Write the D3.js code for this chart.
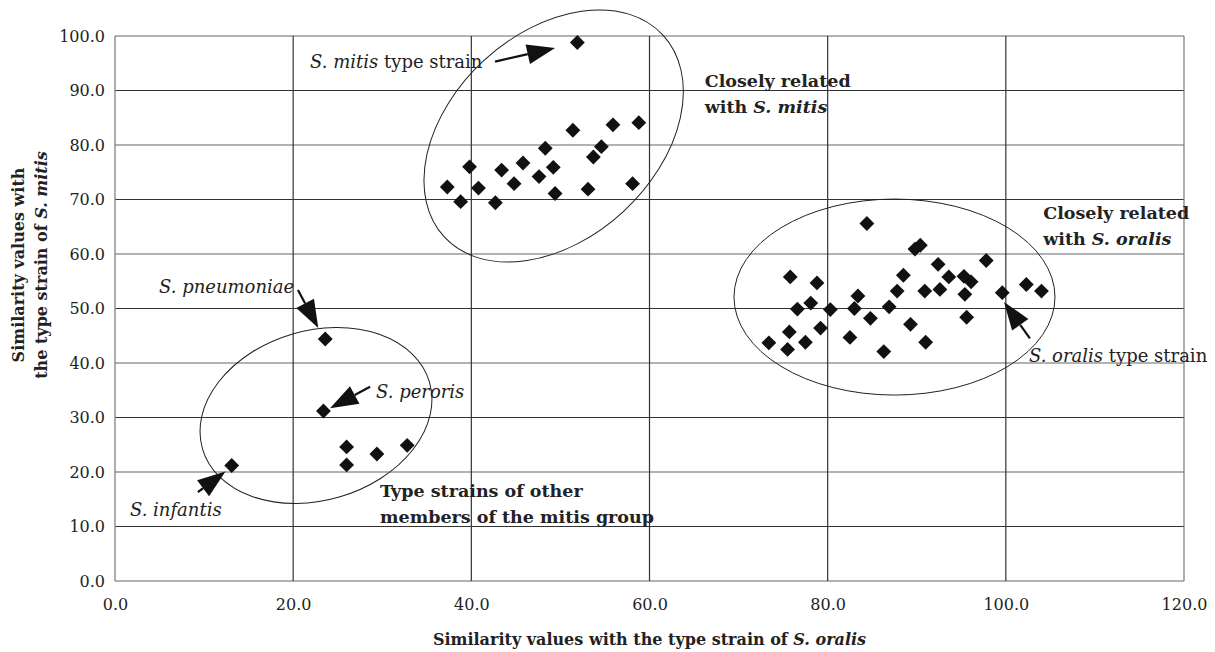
<!DOCTYPE html>
<html lang="en">
<head>
  <meta charset="UTF-8">
  <title>Similarity values</title>
  <script src="https://d3js.org/d3.v7.min.js"></script>
  <style>
    body { margin: 0; background: #fff; }
    svg { font-family: "DejaVu Serif", serif; }
    .tick text { font-size: 16px; fill: #222; }
    .bold { font-weight: bold; font-size: 17.5px; fill: #222; }
    .title { font-weight: bold; font-size: 16px; fill: #222; }
    .note { font-size: 18px; fill: #222; }
  </style>
</head>
<body>
  <svg></svg>
  <script>
    // S. mitis cluster (x = similarity with S. oralis, y = similarity with S. mitis)
    const mitisX = [51.9, 51.4, 55.9, 58.8, 54.6, 53.7, 48.3, 45.8, 39.8, 43.4, 49.2, 47.6, 44.8, 37.3, 40.8, 58.1, 53.1, 49.4, 38.8, 42.7];
    const mitisY = [98.8, 82.7, 83.7, 84.1, 79.7, 77.8, 79.4, 76.7, 76.0, 75.4, 75.9, 74.2, 72.9, 72.3, 72.1, 72.9, 71.9, 71.1, 69.6, 69.4];
    // S. oralis cluster
    const oralisX = [84.4, 89.8, 90.4, 97.8, 92.4, 75.8, 88.5, 93.6, 78.8, 95.3, 96.1, 102.3, 104.0, 99.6, 87.8, 90.9, 92.6, 95.4, 83.4, 78.1, 76.6, 80.3, 83.0, 86.9, 95.6, 84.8, 75.7, 79.2, 89.3, 73.4, 77.5, 82.5, 75.5, 86.3, 91.0];
    const oralisY = [65.6, 60.9, 61.6, 58.8, 58.1, 55.8, 56.1, 55.8, 54.7, 55.9, 54.9, 54.4, 53.2, 52.9, 53.2, 53.2, 53.5, 52.6, 52.3, 51.0, 49.9, 49.8, 50.0, 50.3, 48.4, 48.2, 45.7, 46.4, 47.1, 43.7, 43.8, 44.7, 42.5, 42.1, 43.8];
    // other members of the mitis group
    const otherX = [23.6, 23.4, 26.0, 26.0, 29.4, 32.8, 13.1];
    const otherY = [44.4, 31.2, 24.6, 21.3, 23.3, 24.9, 21.2];

    const xTicks = [0, 20, 40, 60, 80, 100, 120];
    const yTicks = [0, 10, 20, 30, 40, 50, 60, 70, 80, 90, 100];

    const W = 1215, H = 652;
    const margin = { top: 36, right: 31, bottom: 71, left: 115 };

    const svg = d3.select('svg').attr('width', W).attr('height', H);

    const x = d3.scaleLinear().domain([0, 120]).range([margin.left, W - margin.right]);
    const y = d3.scaleLinear().domain([0, 100]).range([H - margin.bottom, margin.top]);

    // grid
    svg.append('g').selectAll('line').data(yTicks).join('line')
      .attr('x1', x(0)).attr('x2', x(120))
      .attr('y1', d => y(d)).attr('y2', d => y(d))
      .attr('stroke', d => d % 20 === 0 ? '#666' : '#333').attr('stroke-width', 1.2);
    svg.append('g').selectAll('line').data(xTicks).join('line')
      .attr('x1', d => x(d)).attr('x2', d => x(d))
      .attr('y1', y(0)).attr('y2', y(100))
      .attr('stroke', d => d === 0 || d === 120 ? '#777' : '#333').attr('stroke-width', 1.2);

    // axes
    svg.append('g')
      .attr('transform', `translate(0,${y(0)})`)
      .call(d3.axisBottom(x).tickValues(xTicks).tickSize(0).tickPadding(18).tickFormat(d3.format('.1f')))
      .call(g => g.select('.domain').remove())
      .selectAll('text').style('font-family', '"DejaVu Serif", serif');
    svg.append('g')
      .attr('transform', `translate(${x(0)},0)`)
      .call(d3.axisLeft(y).tickValues(yTicks).tickSize(0).tickPadding(10).tickFormat(d3.format('.1f')))
      .call(g => g.select('.domain').remove())
      .selectAll('text').style('font-family', '"DejaVu Serif", serif');

    // ellipses
    const ellipses = [
      { cx: 49.24, cy: 81.65, rx: 148.8, ry: 102.8, rot: -42.7 },
      { cx: 87.5, cy: 52.1, rx: 160.5, ry: 98, rot: 0 },
      { cx: 22.56, cy: 30.37, rx: 118.3, ry: 84.8, rot: -16.5 }
    ];
    svg.append('g').selectAll('ellipse').data(ellipses).join('ellipse')
      .attr('transform', d => `translate(${x(d.cx)},${y(d.cy)}) rotate(${d.rot})`)
      .attr('rx', d => d.rx).attr('ry', d => d.ry)
      .attr('fill', 'none').attr('stroke', '#222').attr('stroke-width', 1);

    // points
    const pts = [];
    mitisX.forEach((v, i) => pts.push([v, mitisY[i]]));
    oralisX.forEach((v, i) => pts.push([v, oralisY[i]]));
    otherX.forEach((v, i) => pts.push([v, otherY[i]]));
    const diamond = d3.symbol(d3.symbolSquare, 110);
    svg.append('g').selectAll('path').data(pts).join('path')
      .attr('d', diamond)
      .attr('transform', d => `translate(${x(d[0])},${y(d[1])}) rotate(45)`)
      .attr('fill', '#111');

    // arrows
    const arrows = [
      { from: [42.66, 95.3], to: [49.4, 97.8] },
      { from: [20.54, 53.4], to: [22.82, 46.4] },
      { from: [28.63, 35.65], to: [24.14, 31.7] },
      { from: [9.3, 16.3], to: [12.4, 20.1] },
      { from: [102.7, 44.5], to: [99.8, 51.2] }
    ];
    const ag = svg.append('g');
    arrows.forEach(a => {
      const x1 = x(a.from[0]), y1 = y(a.from[1]), x2 = x(a.to[0]), y2 = y(a.to[1]);
      const ang = Math.atan2(y2 - y1, x2 - x1);
      const len = 28, hw = 10;
      const bx = x2 - len * Math.cos(ang), by = y2 - len * Math.sin(ang);
      ag.append('line').attr('x1', x1).attr('y1', y1).attr('x2', bx).attr('y2', by)
        .attr('stroke', '#111').attr('stroke-width', 2.2);
      ag.append('polygon')
        .attr('points', [[x2, y2],
          [bx + hw * Math.sin(ang), by - hw * Math.cos(ang)],
          [bx - hw * Math.sin(ang), by + hw * Math.cos(ang)]].map(p => p.join(',')).join(' '))
        .attr('fill', '#111');
    });

    // labels: parts are [text, italic]
    const notes = [
      { at: [21.9, 94.1], parts: [['S. mitis', true], [' type strain', false]] },
      { at: [4.94, 52.8], parts: [['S. pneumoniae', true]] },
      { at: [29.3, 33.6], parts: [['S. peroris', true]] },
      { at: [1.68, 12.0], parts: [['S. infantis', true]] },
      { at: [102.6, 40.2], parts: [['S. oralis', true], [' type strain', false]] }
    ];
    notes.forEach(n => {
      const t = svg.append('text').attr('class', 'note').attr('x', x(n.at[0])).attr('y', y(n.at[1]));
      n.parts.forEach(p => t.append('tspan').attr('font-style', p[1] ? 'italic' : 'normal').text(p[0]));
    });

    const groups = [
      { at: [66.2, 90.6], lines: [[['Closely related', false]], [['with ', false], ['S. mitis', true]]] },
      { at: [104.2, 66.4], lines: [[['Closely related', false]], [['with ', false], ['S. oralis', true]]] },
      { at: [29.75, 15.4], lines: [[['Type strains of other', false]], [['members of the mitis group', false]]] }
    ];
    groups.forEach(g => {
      g.lines.forEach((line, i) => {
        const t = svg.append('text').attr('class', 'bold')
          .attr('x', x(g.at[0])).attr('y', y(g.at[1]) + i * 26);
        line.forEach(p => t.append('tspan').attr('font-style', p[1] ? 'italic' : 'normal').text(p[0]));
      });
    });

    // axis titles
    const xt = svg.append('text').attr('class', 'title').attr('text-anchor', 'middle')
      .attr('x', (x(0) + x(120)) / 2).attr('y', 645);
    xt.append('tspan').text('Similarity values with the type strain of ');
    xt.append('tspan').attr('font-style', 'italic').text('S. oralis');

    const yt = svg.append('g').attr('transform', 'translate(0,265) rotate(-90)');
    yt.append('text').attr('class', 'title').attr('text-anchor', 'middle').attr('y', 24)
      .text('Similarity values with');
    const yt2 = yt.append('text').attr('class', 'title').attr('text-anchor', 'middle').attr('y', 47);
    yt2.append('tspan').text('the type strain of ');
    yt2.append('tspan').attr('font-style', 'italic').text('S. mitis');
  </script>
</body>
</html>
